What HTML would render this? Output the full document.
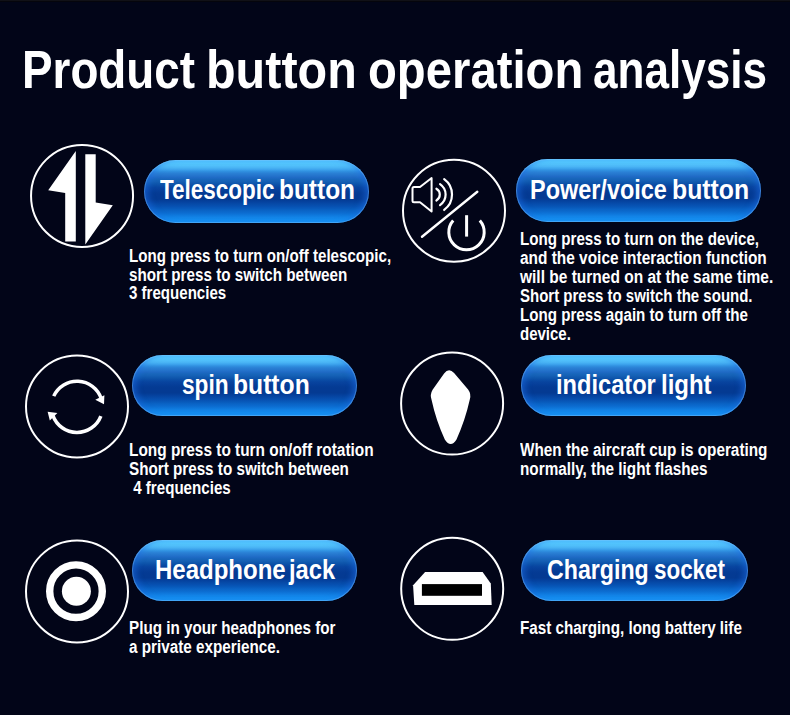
<!DOCTYPE html>
<html><head><meta charset="utf-8">
<style>
html,body{margin:0;padding:0;}
body{width:790px;height:715px;overflow:hidden;background:#020518;position:relative;font-family:"Liberation Sans",sans-serif;font-weight:bold;color:#fff;}
.t{position:absolute;white-space:nowrap;transform-origin:0 0;}
.tw{position:absolute;top:39.65px;font-size:53.5px;line-height:60px;white-space:nowrap;transform-origin:0 0;}
.pill{position:absolute;height:62px;border-radius:31px;
 background:linear-gradient(to bottom,#55c8ff 0%,#55c8ff 3%,#52c2fc 8%,#4ab5f5 12%,#3ea5ee 15%,#3090e0 18%,#2a80d5 21%,#2474cc 25%,#1f6ac5 28%,#1866bb 31%,#1560b5 34%,#0e55ab 38%,#0a4ca5 41%,#08449f 44%,#063f9a 48%,#053c95 51%,#043a93 54%,#043a92 62%,#0543a0 67%,#064aa8 70%,#0752b3 74%,#085abb 77%,#0a63c5 80%,#0c6cd0 84%,#0e76da 87%,#1180e4 90%,#1489ec 93%,#1792f2 97%,#1a98f5 100%);
 box-shadow: inset 0 0 0 1px rgba(140,205,255,0.35), inset 7px 0 6px -3px rgba(30,110,230,0.55), inset -7px 0 6px -3px rgba(30,110,230,0.55);}
.pw{position:absolute;font-size:27px;line-height:30px;height:30px;white-space:nowrap;transform-origin:0 0;}
.l{position:absolute;font-size:17.5px;line-height:19px;height:19px;white-space:nowrap;transform-origin:0 0;}
svg{position:absolute;left:0;top:0;}
</style></head>
<body>
<div style="position:absolute;left:0;top:0;width:790px;height:1px;background:#111117"></div>
<div style="position:absolute;left:0;top:1px;width:790px;height:1px;background:#05050c"></div>
<div class="tw" style="left:22.04px;transform:scaleX(0.8563)">Product</div>
<div class="tw" style="left:205.97px;transform:scaleX(0.9063)">button</div>
<div class="tw" style="left:367.74px;transform:scaleX(0.8832)">operation</div>
<div class="tw" style="left:593.2px;transform:scaleX(0.8243)">analysis</div>

<div class="pill" style="left:144.1px;top:159.9px;width:224.7px;height:63.0px;border-radius:31.5px;"></div>
<div class="pill" style="left:516.0px;top:158.9px;width:244.7px;height:62.75px;border-radius:31.375px;"></div>
<div class="pill" style="left:132.1px;top:354.9px;width:224.8px;height:61.1px;border-radius:30.55px;"></div>
<div class="pill" style="left:521.1px;top:354.9px;width:224.9px;height:61.0px;border-radius:30.5px;"></div>
<div class="pill" style="left:132.2px;top:539.9px;width:224.9px;height:60.9px;border-radius:30.45px;"></div>
<div class="pill" style="left:521.0px;top:539.9px;width:226.9px;height:61.0px;border-radius:30.5px;"></div>

<div class="pw" style="left:160.0px;top:175.3px;transform:scaleX(0.8321)">Telescopic</div>
<div class="pw" style="left:279.49px;top:175.3px;transform:scaleX(0.905)">button</div>
<div class="pw" style="left:529.96px;top:175.3px;transform:scaleX(0.8684)">Power/voice</div>
<div class="pw" style="left:672.36px;top:175.3px;transform:scaleX(0.9175)">button</div>
<div class="pw" style="left:181.66px;top:370.3px;transform:scaleX(0.8396)">spin</div>
<div class="pw" style="left:233.37px;top:370.3px;transform:scaleX(0.9138)">button</div>
<div class="pw" style="left:555.75px;top:370.3px;transform:scaleX(0.875)">indicator</div>
<div class="pw" style="left:660.73px;top:370.3px;transform:scaleX(0.8873)">light</div>
<div class="pw" style="left:155.12px;top:555.3px;transform:scaleX(0.8889)">Headphone</div>
<div class="pw" style="left:289.0px;top:555.3px;transform:scaleX(0.8769)">jack</div>
<div class="pw" style="left:547.34px;top:555.3px;transform:scaleX(0.8586)">Charging</div>
<div class="pw" style="left:654.27px;top:555.3px;transform:scaleX(0.8298)">socket</div>

<!--LINES-->
<div class="l" style="left:129.00px;top:246.70px;transform:scaleX(0.8641)">Long press to turn on/off telescopic,</div>
<div class="l" style="left:129.00px;top:265.50px;transform:scaleX(0.8698)">short press to switch between</div>
<div class="l" style="left:129.00px;top:284.20px;transform:scaleX(0.8614)">3 frequencies</div>
<div class="l" style="left:520.00px;top:229.80px;transform:scaleX(0.8658)">Long press to turn on the device,</div>
<div class="l" style="left:520.00px;top:248.70px;transform:scaleX(0.8812)">and the voice interaction function</div>
<div class="l" style="left:520.00px;top:267.50px;transform:scaleX(0.8856)">will be turned on at the same time.</div>
<div class="l" style="left:520.00px;top:286.70px;transform:scaleX(0.8572)">Short press to switch the sound.</div>
<div class="l" style="left:520.00px;top:306.00px;transform:scaleX(0.8652)">Long press again to turn off the</div>
<div class="l" style="left:520.00px;top:325.00px;transform:scaleX(0.8573)">device.</div>
<div class="l" style="left:129.00px;top:441.20px;transform:scaleX(0.8799)">Long press to turn on/off rotation</div>
<div class="l" style="left:129.00px;top:459.70px;transform:scaleX(0.8698)">Short press to switch between</div>
<div class="l" style="left:129.00px;top:479.00px;transform:scaleX(0.8641)">&nbsp;4 frequencies</div>
<div class="l" style="left:520.00px;top:441.30px;transform:scaleX(0.8744)">When the aircraft cup is operating</div>
<div class="l" style="left:520.00px;top:459.90px;transform:scaleX(0.8741)">normally, the light flashes</div>
<div class="l" style="left:129.00px;top:619.40px;transform:scaleX(0.8703)">Plug in your headphones for</div>
<div class="l" style="left:129.00px;top:638.00px;transform:scaleX(0.8717)">a private experience.</div>
<div class="l" style="left:520.00px;top:619.20px;transform:scaleX(0.8710)">Fast charging, long battery life</div>
<!--/LINES-->

<svg width="790" height="715" viewBox="0 0 790 715">
 <g fill="none" stroke="#fff" stroke-width="2">
  <circle cx="82.05" cy="195.95" r="51"/>
  <circle cx="454.0" cy="210.75" r="51"/>
  <circle cx="77.0" cy="406.5" r="51"/>
  <circle cx="452.1" cy="403.6" r="51"/>
  <circle cx="77.0" cy="591.4" r="51"/>
  <circle cx="452.2" cy="588.8" r="51"/>
 </g>
 <!-- telescopic arrows -->
 <g fill="#fff">
  <polygon points="75.8,150.9 48.2,190.3 65.2,192.9 65.2,241.6 75.8,241.6"/>
  <polygon points="85.3,154.2 95.7,154.2 95.7,202.4 112.8,205.2 85.3,244.6"/>
 </g>
 <!-- power / voice -->
 <g fill="none" stroke="#fff" stroke-width="2" stroke-linejoin="round">
  <path d="M420,187 L431.6,178 L431.6,211.5 L420,202.3 L414,202.3 Q412.5,202.3 412.5,200.8 L412.5,188.5 Q412.5,187 414,187 Z"/>
 </g>
 <g fill="none" stroke="#fff" stroke-width="2.2" stroke-linecap="round">
  <path d="M436.40,188.71 A6.8,6.8 0 0 1 436.40,200.49"/>
  <path d="M440.05,184.15 A12.6,12.6 0 0 1 440.05,205.05"/>
  <path d="M444.17,179.23 A19,19 0 0 1 444.17,209.97"/>
  <line x1="422" y1="236.8" x2="477.3" y2="191.8" stroke-width="2.4"/>
 </g>
 <g fill="none" stroke="#fff" stroke-width="3">
  <path d="M453.2,220.4 A17.7,17.7 0 1 0 479.8,220.4"/>
  <line x1="466.6" y1="215.2" x2="466.6" y2="236.6"/>
 </g>
 <!-- spin -->
 <g fill="none" stroke="#fff" stroke-width="3.5">
  <path d="M53.72,396.14 A25.6,25.6 0 0 1 101.21,398.47"/>
  <path d="M100.87,416.06 A25.6,25.6 0 0 1 52.94,415.56"/>
 </g>
 <g fill="#fff">
  <polygon points="104.4,395.2 95.3,399.8 104.0,404.3"/>
  <polygon points="47.6,411.8 57.4,413.1 49.8,420.4"/>
 </g>
 <!-- indicator kite -->
 <path d="M444.1,373.5 Q448.8,367.5 454.1,373.0 L468.1,389.5 Q471.5,394 469.8,399.6 Q465.2,420.3 456.5,439.5 Q450.7,448.5 444.8,439.5 Q436,420.6 431.6,400.1 Q429.6,394.6 432.6,389.7 Z" fill="#fff"/>
 <!-- headphone -->
 <circle cx="76.0" cy="591.2" r="26.3" fill="none" stroke="#fff" stroke-width="7.4"/>
 <circle cx="76.4" cy="591.2" r="14.5" fill="#fff"/>
 <!-- charging -->
 <polygon points="425.1,572.1 482.6,572.1 490.8,583.5 491.7,604.9 414.3,604.9 413.1,585.3" fill="#fff"/>
 <rect x="421.9" y="584.1" width="60.1" height="11.7" fill="#000"/>
</svg>
</body></html>
